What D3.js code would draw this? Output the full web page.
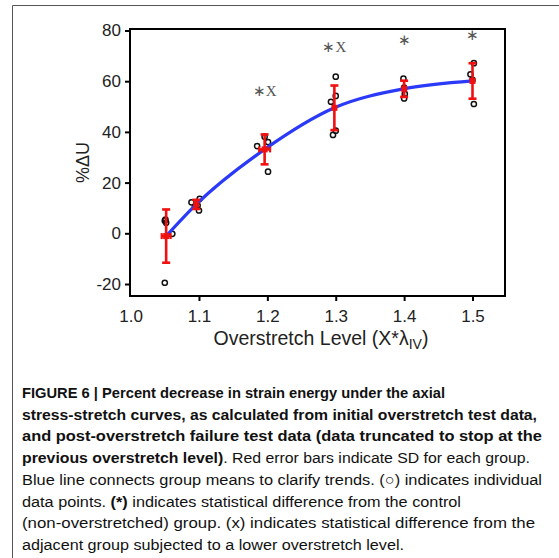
<!DOCTYPE html>
<html>
<head>
<meta charset="utf-8">
<script src="https://cdn.jsdelivr.net/npm/d3@7"></script>
<style>
  html, body { margin: 0; padding: 0; background: #fff; }
  svg { display: block; }
</style>
</head>
<body>
<svg id="fig" width="559" height="558"></svg>
<script>
// Overstretch groups: mean x position, mean %ΔU and its SD
const groupX    = [1.052, 1.096, 1.196, 1.298, 1.400, 1.500];
const groupMean = [-1.1, 11.4, 33.1, 49.5, 57.0, 60.1];
const groupSD   = [10.5, 1.8, 5.9, 8.8, 3.2, 7.0];
const groupXSD  = [0.0065, 0, 0.008, 0, 0, 0];

// Individual specimens (x jittered around each level)
const pointX = [
  1.050, 1.051, 1.052, 1.061, 1.050,
  1.089, 1.101, 1.100, 1.098, 1.094,
  1.185, 1.196, 1.201, 1.201,
  1.300, 1.293, 1.300, 1.300, 1.296,
  1.399, 1.400, 1.400, 1.401,
  1.502, 1.497, 1.500, 1.502
];
const pointY = [
  5.0, 5.4, 4.2, -0.2, -19.5,
  12.2, 13.6, 9.0, 11.0, 10.5,
  34.4, 38.1, 36.0, 24.3,
  61.8, 51.9, 54.2, 40.5, 38.8,
  61.0, 57.5, 53.2, 55.0,
  67.1, 62.7, 60.5, 51.0
];

// Significance marks above groups
const sigLabel = ["", "", "∗X", "∗X", "∗", "∗"];
const sigY     = [null, null, 56.3, 73.6, 76.3, 78.2];

const xTicks = [1.0, 1.1, 1.2, 1.3, 1.4, 1.5];
const yTicks = [-20, 0, 20, 40, 60, 80];

// Caption lines: [text, bold] runs, plus the set width of each line
const captionLines = [
  [["FIGURE 6 | Percent decrease in strain energy under the axial", true]],
  [["stress-stretch curves, as calculated from initial overstretch test data,", true]],
  [["and post-overstretch failure test data (data truncated to stop at the", true]],
  [["previous overstretch level)", true], [". Red error bars indicate SD for each group.", false]],
  [["Blue line connects group means to clarify trends. (○) indicates individual", false]],
  [["data points. ", false], ["(*)", true], [" indicates statistical difference from the control", false]],
  [["(non-overstretched) group. (x) indicates statistical difference from the", false]],
  [["adjacent group subjected to a lower overstretch level.", false]]
];
const captionWidths = [423, 515, 520, 508, 520, 439, 513, 382];

const svg = d3.select("#fig");

// Outer figure frame (top and left edges)
svg.append("path")
  .attr("d", "M12.5,558 V5.5 H559")
  .attr("fill", "none").attr("stroke", "#555").attr("stroke-width", 1);

const plot = { left: 130, right: 505, top: 29, bottom: 296 };

const x = d3.scaleLinear().domain([1.0, 1.5]).range([130.6, 472.5]);
const y = d3.scaleLinear().domain([-20, 80]).range([284, 30.5]);

const g = svg.append("g");

// Axes with outward ticks
const xAxis = d3.axisBottom(x).tickValues(xTicks).tickFormat(d3.format(".1f")).tickSize(5).tickPadding(9);
const yAxis = d3.axisLeft(y).tickValues(yTicks).tickFormat(d => String(d)).tickSize(5).tickPadding(4);

const gx = g.append("g").attr("transform", `translate(0,${plot.bottom})`).call(xAxis);
const gy = g.append("g").attr("transform", `translate(${plot.left},0)`).call(yAxis);
[gx, gy].forEach(a => {
  a.select(".domain").remove();
  a.selectAll(".tick line").attr("stroke", "#000").attr("stroke-width", 2);
  a.selectAll(".tick text")
    .attr("font-family", "Liberation Sans, Arial, sans-serif")
    .attr("font-size", 17).attr("fill", "#222");
});
gx.selectAll(".tick").filter(d => d === 1.0).select("line").remove();

// Plot box
g.append("rect")
  .attr("x", plot.left).attr("y", plot.top)
  .attr("width", plot.right - plot.left).attr("height", plot.bottom - plot.top)
  .attr("fill", "none").attr("stroke", "#000").attr("stroke-width", 2);

// Axis titles
svg.append("text")
  .attr("transform", `translate(89,${(plot.top + plot.bottom) / 2}) rotate(-90)`)
  .attr("text-anchor", "middle")
  .attr("font-family", "Liberation Sans, Arial, sans-serif")
  .attr("font-size", 18).attr("fill", "#222")
  .text("%ΔU");

const xt = svg.append("text")
  .attr("x", 321).attr("y", 345)
  .attr("text-anchor", "middle")
  .attr("font-family", "Liberation Sans, Arial, sans-serif")
  .attr("font-size", 19.5).attr("fill", "#222");
xt.append("tspan").text("Overstretch Level (X*λ");
xt.append("tspan").attr("font-size", 14).attr("dy", 4).text("IV");
xt.append("tspan").attr("dy", -4).text(")");

// Individual data points
const pts = d3.range(pointX.length).map(i => ({ x: pointX[i], y: pointY[i] }));
g.selectAll("circle.pt").data(pts).enter().append("circle")
  .attr("class", "pt")
  .attr("cx", d => x(d.x)).attr("cy", d => y(d.y)).attr("r", 2.6)
  .attr("fill", "none").attr("stroke", "#111").attr("stroke-width", 1.5);

// Mean trend line
const means = d3.range(groupX.length).map(i => ({
  x: groupX[i], m: groupMean[i], sd: groupSD[i], xsd: groupXSD[i], lab: sigLabel[i], ly: sigY[i]
}));
g.append("path")
  .datum(means)
  .attr("d", d3.line().x(d => x(d.x)).y(d => y(d.m)).curve(d3.curveMonotoneX))
  .attr("fill", "none").attr("stroke", "#2a3af8").attr("stroke-width", 3.2);

// SD error bars
const red = "#f01010";
const eb = g.selectAll("g.eb").data(means).enter().append("g").attr("class", "eb");
eb.append("line")
  .attr("x1", d => x(d.x)).attr("x2", d => x(d.x))
  .attr("y1", d => y(d.m - d.sd)).attr("y2", d => y(d.m + d.sd))
  .attr("stroke", red).attr("stroke-width", 2.6);
[-1, 1].forEach(s => {
  eb.append("line")
    .attr("x1", d => x(d.x) - 4).attr("x2", d => x(d.x) + 4)
    .attr("y1", d => y(d.m + s * d.sd)).attr("y2", d => y(d.m + s * d.sd))
    .attr("stroke", red).attr("stroke-width", 2.6);
});
// horizontal spread where present
const ebx = eb.filter(d => d.xsd > 0);
ebx.append("line")
  .attr("x1", d => x(d.x - d.xsd)).attr("x2", d => x(d.x + d.xsd))
  .attr("y1", d => y(d.m)).attr("y2", d => y(d.m))
  .attr("stroke", red).attr("stroke-width", 2.6);
[-1, 1].forEach(s => {
  ebx.append("line")
    .attr("x1", d => x(d.x + s * d.xsd)).attr("x2", d => x(d.x + s * d.xsd))
    .attr("y1", d => y(d.m) - 3).attr("y2", d => y(d.m) + 3)
    .attr("stroke", red).attr("stroke-width", 2.2);
});
eb.append("rect")
  .attr("x", d => x(d.x) - 3).attr("y", d => y(d.m) - 3)
  .attr("width", 6).attr("height", 6).attr("fill", red);

// Significance marks
g.selectAll("text.sig").data(means.filter(d => d.lab)).enter().append("text")
  .attr("class", "sig")
  .attr("x", d => x(d.x)).attr("y", d => y(d.ly) + 5)
  .attr("text-anchor", "middle")
  .attr("font-family", "Liberation Serif, Times New Roman, serif")
  .attr("font-size", 15).attr("fill", "#555")
  .text(d => d.lab);

// Caption
const cap = svg.append("g")
  .attr("font-family", "Liberation Sans, Arial, sans-serif")
  .attr("font-size", 15.5).attr("fill", "#111");
captionLines.forEach((parts, i) => {
  const t = cap.append("text").attr("x", 22).attr("y", 398 + i * 21.7)
    .attr("textLength", captionWidths[i]).attr("lengthAdjust", "spacingAndGlyphs");
  parts.forEach(([s, bold]) => {
    t.append("tspan").attr("font-weight", bold ? "bold" : "normal").text(s);
  });
});
</script>
</body>
</html>
